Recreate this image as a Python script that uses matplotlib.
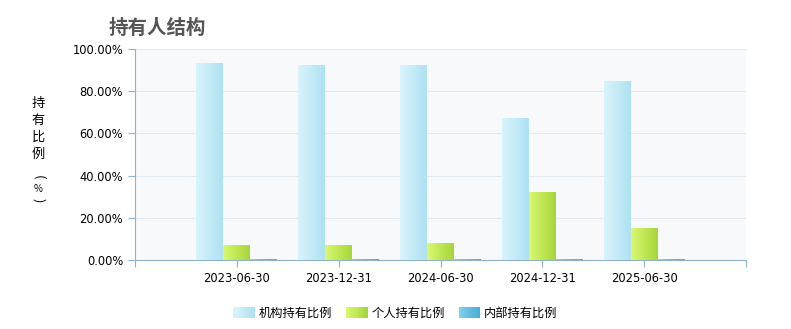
import matplotlib
matplotlib.use('Agg')
import matplotlib.pyplot as plt
import numpy as np
from matplotlib.patches import Patch, Rectangle
from matplotlib.legend_handler import HandlerBase

plt.rcParams['font.family'] = ['Noto Sans CJK SC', 'DejaVu Sans']

# data
dates = ['2023-06-30', '2023-12-31', '2024-06-30', '2024-12-31', '2025-06-30']
institution = [92.9, 92.3, 92.0, 67.3, 84.8]
individual = [7.1, 7.1, 7.6, 32.2, 14.7]
internal = [0.4, 0.4, 0.4, 0.4, 0.4]

series = ['机构持有比例', '个人持有比例', '内部持有比例']
colors = [('#d9f4fc', '#aee1f2'), ('#daf870', '#a6d63a'), ('#7fd2ec', '#47add6')]


class GradientHandler(HandlerBase):
    # draws the legend key as thin vertical stripes going left -> right
    def __init__(self, c0, c1):
        super().__init__()
        self.cmap = matplotlib.colors.LinearSegmentedColormap.from_list('lg', [c0, c1])

    def create_artists(self, legend, orig_handle, xdescent, ydescent, width, height, fontsize, trans):
        n = 20
        arts = []
        for k in range(n):
            r = Rectangle((-xdescent + width * k / n, -ydescent), width / n + 0.3, height,
                          facecolor=self.cmap(k / (n - 1)), edgecolor='none', transform=trans)
            arts.append(r)
        return arts


fig = plt.figure(figsize=(7.91, 3.29), dpi=100)
ax = fig.add_axes([0.1707, 0.2097, 0.7724, 0.6413])
ax.set_facecolor('#f8f9fb')

x = np.arange(len(dates))
w = 0.265
for i, vals in enumerate([institution, individual, internal]):
    bars = ax.bar(x + (i - 1) * w, vals, w, color=colors[i][1], zorder=2)
    cmap = matplotlib.colors.LinearSegmentedColormap.from_list('g%d' % i, colors[i])
    grad = np.linspace(0, 1, 64).reshape(1, -1)
    for b in bars:
        x0, y0 = b.get_x(), b.get_y()
        ax.imshow(grad, cmap=cmap, aspect='auto', zorder=3,
                  extent=(x0, x0 + b.get_width(), y0, y0 + b.get_height()))

ax.set_xlim(-1, 5)
ax.set_ylim(0, 100)
ax.set_xticks(x)
ax.set_xticklabels(dates, fontsize=8.3, family=['DejaVu Sans'])
ax.set_xticks([-1, 5], minor=True)
ax.set_yticks(np.arange(0, 101, 20))
ax.set_yticklabels(['%.2f%%' % v for v in np.arange(0, 101, 20)], fontsize=8.3, family=['DejaVu Sans'])
ax.grid(axis='y', color='#e3e9f0', linewidth=0.8, zorder=0)
ax.tick_params(axis='both', which='both', color='#8fb3cc', length=5, width=0.8)
for s in ['top', 'right']:
    ax.spines[s].set_visible(False)
for s in ['left', 'bottom']:
    ax.spines[s].set_color('#8fb3cc')

fig.text(0.137, 0.915, '持有人结构', fontsize=14, fontweight='bold', color='#555555', va='center')

# vertical y label, one character at a time
ylab = ['持', '有', '比', '例', '(', '%', ')']
ypix = [103, 120, 137, 154, 177, 189, 200]
rots = [0, 0, 0, 0, -90, 0, -90]
for ch, yp, r in zip(ylab, ypix, rots):
    fs = 7 if ch == '%' else 9.5
    fig.text(38.5 / 791, 1 - yp / 329, ch, fontsize=fs, ha='center', va='center', rotation=r)

handles = [Patch(facecolor=c[1], edgecolor='none') for c in colors]
hmap = {h: GradientHandler(*c) for h, c in zip(handles, colors)}
fig.legend(handles, series, loc='lower center', bbox_to_anchor=(0.5, -0.005), ncol=3,
           frameon=False, fontsize=8.8, handlelength=1.75, handleheight=0.9, handletextpad=0.35,
           columnspacing=1.1, handler_map=hmap)

fig.savefig('out.png', dpi=100)
